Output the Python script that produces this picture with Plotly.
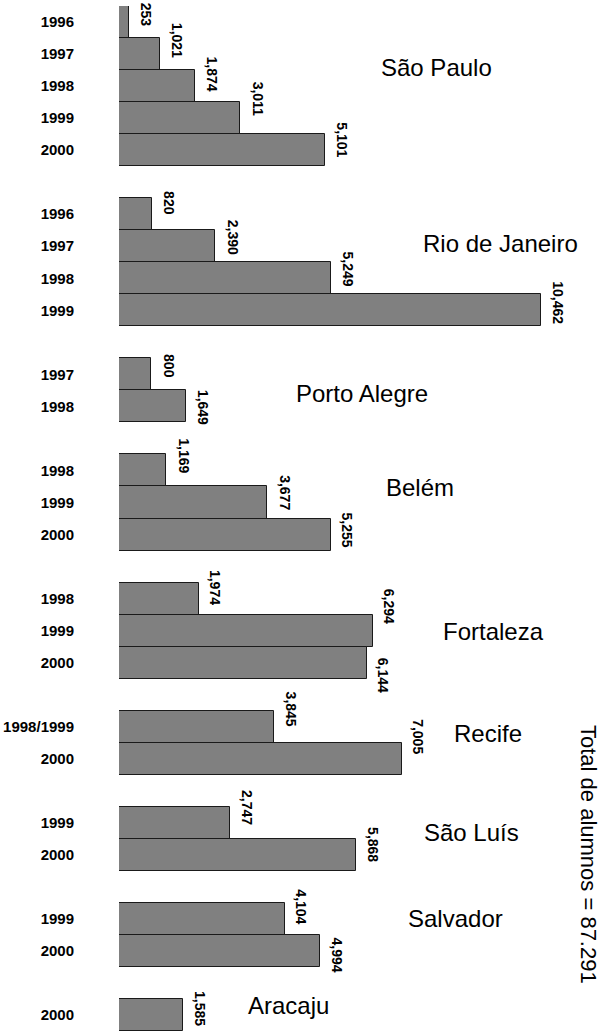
import plotly.graph_objects as go

# ---- data ----
cities = ["São Paulo", "Rio de Janeiro", "Porto Alegre", "Belém", "Fortaleza",
          "Recife", "São Luís", "Salvador", "Aracaju"]
sao_paulo_years = ["1996", "1997", "1998", "1999", "2000"]
sao_paulo_values = [253, 1021, 1874, 3011, 5101]
rio_years = ["1996", "1997", "1998", "1999"]
rio_values = [820, 2390, 5249, 10462]
porto_alegre_years = ["1997", "1998"]
porto_alegre_values = [800, 1649]
belem_years = ["1998", "1999", "2000"]
belem_values = [1169, 3677, 5255]
fortaleza_years = ["1998", "1999", "2000"]
fortaleza_values = [1974, 6294, 6144]
recife_years = ["1998/1999", "2000"]
recife_values = [3845, 7005]
sao_luis_years = ["1999", "2000"]
sao_luis_values = [2747, 5868]
salvador_years = ["1999", "2000"]
salvador_values = [4104, 4994]
aracaju_years = ["2000"]
aracaju_values = [1585]
total_text = "Total de alumnos = 87.291"

groups = [
    (sao_paulo_years, sao_paulo_values),
    (rio_years, rio_values),
    (porto_alegre_years, porto_alegre_values),
    (belem_years, belem_values),
    (fortaleza_years, fortaleza_values),
    (recife_years, recife_values),
    (sao_luis_years, sao_luis_values),
    (salvador_years, salvador_values),
    (aracaju_years, aracaju_values),
]

# ---- layout helpers (pixel placement of text) ----
W, H = 600, 1034
ML, MR, MT, MB = 119, 0, 6, 3
PLOT_W = W - ML - MR
PLOT_H = H - MT - MB
PX_PER_UNIT = 422 / 10462  # bar length scale
XMAX = PLOT_W / PX_PER_UNIT

city_label_px = [436, 500, 362, 420, 493, 488, 471, 455, 288]
city_label_dy = [-19, -19, 3, -15, 1, -9, -6, -16, -9]
# per-bar vertical nudge (px, down) of value label centre relative to bar top
label_nudge = [[9, 2, 4, -3, 6], [5, 7, 7, 8], [8, 17], [1, 6, 12], [5, -8, 29],
               [-2, -6], [1, 6], [4, 20], [10]]

ys, xs, ticktext = [], [], []
annotations = []
slot = 0
group_centers = []
for gi, (yrs, vals) in enumerate(groups):
    start = slot
    for j, (yr, v) in enumerate(zip(yrs, vals)):
        ys.append(slot)
        xs.append(v)
        ticktext.append(f"<b>{yr}</b>")
        annotations.append(dict(
            x=v, y=slot - 0.5, xref="x", yref="y", text=f"<b>{v:,}</b>",
            textangle=90, showarrow=False, xanchor="left", yanchor="middle",
            xshift=7, yshift=-label_nudge[gi][j],
            font=dict(family="Liberation Sans, Arial", size=14, color="black")))
        slot += 1
    group_centers.append((start + slot - 1) / 2)
    slot += 1
last_slot = ys[-1]

for name, c, px, dy in zip(cities, group_centers, city_label_px, city_label_dy):
    annotations.append(dict(
        x=(px - ML) / PLOT_W, y=c, xref="paper", yref="y", text=name,
        showarrow=False, xanchor="center", yanchor="middle", yshift=-dy,
        font=dict(family="Liberation Sans, Arial", size=24, color="black")))

annotations.append(dict(
    x=(589 - ML) / PLOT_W, y=(H - MB - 854) / PLOT_H, xref="paper", yref="paper",
    text=total_text, textangle=90, showarrow=False, xanchor="center", yanchor="middle",
    font=dict(family="Liberation Sans, Arial", size=22, color="black")))

fig = go.Figure(go.Bar(
    x=xs, y=ys, orientation="h", width=1,
    marker=dict(color="#808080", line=dict(color="#1a1a1a", width=1)),
    hoverinfo="x+y"))

fig.update_layout(
    width=W, height=H,
    margin=dict(l=ML, r=MR, t=MT, b=MB, autoexpand=False),
    paper_bgcolor="white", plot_bgcolor="white",
    showlegend=False, bargap=0,
    annotations=annotations,
    xaxis=dict(range=[0, XMAX], visible=False, fixedrange=True, automargin=False),
    yaxis=dict(range=[last_slot + 0.5, -0.5], tickvals=ys, ticktext=ticktext,
               showgrid=False, zeroline=False, showline=False, ticks="",
               automargin=False, ticklabelstandoff=44, fixedrange=True,
               tickfont=dict(family="Liberation Sans, Arial", size=15, color="black")),
)

fig.write_html("out.html", config={"displayModeBar": False},
               post_script="document.body.style.margin='0';document.body.style.overflow='hidden';")
